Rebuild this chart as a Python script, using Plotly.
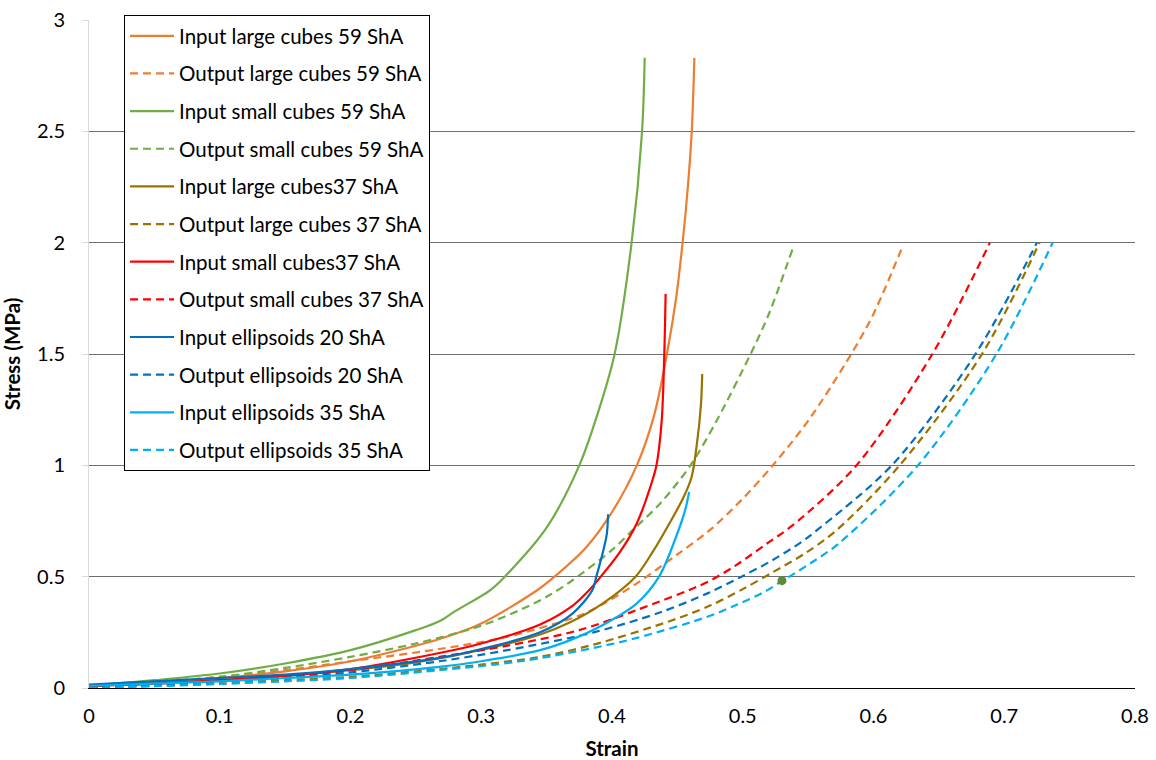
import plotly.graph_objects as go

# Stress-strain curves (strain in mm/mm, stress in MPa)
names = [
    "Input large cubes 59 ShA", "Output large cubes 59 ShA",
    "Input small cubes 59 ShA", "Output small cubes 59 ShA",
    "Input large cubes37 ShA", "Output large cubes 37 ShA",
    "Input small cubes37 ShA", "Output small cubes 37 ShA",
    "Input ellipsoids 20 ShA", "Output ellipsoids 20 ShA",
    "Input ellipsoids 35 ShA", "Output ellipsoids 35 ShA",
]
colors = ["#ED7D31", "#ED7D31", "#70AD47", "#70AD47", "#997300", "#997300",
          "#FF0000", "#FF0000", "#0070C0", "#0070C0", "#00B0F0", "#00B0F0"]

in_large_59_x = [0, 0.05, 0.1, 0.15, 0.2, 0.25, 0.268, 0.3, 0.343, 0.356, 0.38, 0.4, 0.419,
                 0.432, 0.442, 0.449, 0.454, 0.458, 0.461, 0.463]
in_large_59_y = [0.01, 0.025, 0.045, 0.075, 0.12, 0.19, 0.22, 0.29, 0.44, 0.5, 0.63, 0.79, 1.0,
                 1.22, 1.5, 1.75, 2.0, 2.25, 2.5, 2.83]

out_large_59_x = [0, 0.05, 0.1, 0.15, 0.2, 0.268, 0.32, 0.375, 0.391, 0.419, 0.45, 0.475,
                  0.5, 0.523, 0.55, 0.583, 0.6, 0.622]
out_large_59_y = [0, 0.025, 0.05, 0.08, 0.12, 0.175, 0.23, 0.325, 0.37, 0.47, 0.6, 0.71,
                  0.85, 1.0, 1.2, 1.5, 1.68, 1.98]

in_small_59_x = [0, 0.05, 0.1, 0.15, 0.2, 0.25, 0.268, 0.28, 0.307, 0.318, 0.35, 0.375,
                 0.39, 0.402, 0.415, 0.423, 0.425]
in_small_59_y = [0.01, 0.035, 0.065, 0.11, 0.17, 0.26, 0.3, 0.345, 0.44, 0.5, 0.72, 1.0,
                 1.25, 1.5, 2.0, 2.5, 2.83]

out_small_59_x = [0, 0.05, 0.1, 0.15, 0.2, 0.25, 0.3, 0.337, 0.353, 0.37, 0.4, 0.416,
                  0.437, 0.46, 0.48, 0.506, 0.52, 0.538]
out_small_59_y = [0, 0.025, 0.05, 0.09, 0.14, 0.2, 0.28, 0.37, 0.42, 0.485, 0.62, 0.71,
                  0.83, 1.0, 1.2, 1.5, 1.68, 1.97]

in_large_37_x = [0, 0.05, 0.1, 0.15, 0.2, 0.25, 0.307, 0.345, 0.368, 0.393, 0.418, 0.431,
                 0.444, 0.455, 0.461, 0.465, 0.468, 0.469]
in_large_37_y = [0.01, 0.02, 0.035, 0.055, 0.08, 0.115, 0.18, 0.24, 0.295, 0.38, 0.5, 0.61,
                 0.74, 0.86, 0.95, 1.1, 1.27, 1.41]

out_large_37_x = [0, 0.05, 0.1, 0.15, 0.2, 0.268, 0.3, 0.345, 0.386, 0.444, 0.475, 0.5,
                  0.523, 0.548, 0.572, 0.62, 0.683, 0.727]
out_large_37_y = [0, 0.01, 0.02, 0.035, 0.05, 0.085, 0.105, 0.14, 0.195, 0.3, 0.37, 0.444,
                  0.52, 0.606, 0.71, 1.0, 1.5, 2.0]

in_small_37_x = [0, 0.05, 0.1, 0.15, 0.2, 0.268, 0.3, 0.345, 0.37, 0.381, 0.39, 0.406,
                 0.419, 0.431, 0.434, 0.438, 0.44, 0.441]
in_small_37_y = [0.01, 0.02, 0.035, 0.055, 0.085, 0.157, 0.2, 0.285, 0.37, 0.43, 0.49, 0.61,
                 0.74, 0.934, 1.0, 1.2, 1.5, 1.77]

out_small_37_x = [0, 0.05, 0.1, 0.15, 0.2, 0.268, 0.32, 0.375, 0.419, 0.473, 0.495, 0.518,
                  0.538, 0.587, 0.645, 0.689]
out_small_37_y = [0, 0.015, 0.03, 0.05, 0.08, 0.14, 0.19, 0.26, 0.35, 0.476, 0.552, 0.647,
                  0.73, 1.0, 1.5, 2.0]

in_ell_20_x = [0, 0.05, 0.1, 0.15, 0.2, 0.268, 0.3, 0.345, 0.37, 0.385, 0.388, 0.393,
               0.396, 0.397]
in_ell_20_y = [0.015, 0.03, 0.045, 0.06, 0.085, 0.135, 0.175, 0.25, 0.335, 0.44, 0.5, 0.61,
               0.69, 0.78]

out_ell_20_x = [0, 0.05, 0.1, 0.15, 0.2, 0.268, 0.32, 0.386, 0.437, 0.473, 0.499, 0.523,
                0.545, 0.557, 0.614, 0.678, 0.725]
out_ell_20_y = [0, 0.015, 0.03, 0.045, 0.07, 0.12, 0.17, 0.25, 0.34, 0.425, 0.5, 0.575,
                0.656, 0.71, 1.0, 1.5, 2.0]

in_ell_35_x = [0, 0.05, 0.1, 0.15, 0.2, 0.268, 0.3, 0.345, 0.368, 0.393, 0.419, 0.436,
               0.45, 0.456, 0.459]
in_ell_35_y = [0.01, 0.02, 0.03, 0.045, 0.06, 0.095, 0.12, 0.17, 0.215, 0.283, 0.38, 0.5,
               0.695, 0.8, 0.88]

out_ell_35_x = [0, 0.05, 0.1, 0.15, 0.2, 0.268, 0.33, 0.386, 0.419, 0.473, 0.495, 0.516,
                0.53, 0.551, 0.573, 0.634, 0.694, 0.737]
out_ell_35_y = [0, 0.008, 0.018, 0.03, 0.045, 0.08, 0.12, 0.18, 0.225, 0.32, 0.373, 0.43,
                0.48, 0.557, 0.647, 1.0, 1.5, 2.0]

# single highlighted data point
marker_x = [0.530]
marker_y = [0.482]

# axis ticks
strain_ticks = [0, 0.1, 0.2, 0.3, 0.4, 0.5, 0.6, 0.7, 0.8]
strain_labels = ["0", "0.1", "0.2", "0.3", "0.4", "0.5", "0.6", "0.7", "0.8"]
stress_ticks = [0, 0.5, 1, 1.5, 2, 2.5, 3]
stress_labels = ["0", "0.5", "1", "1.5", "2", "2.5", "3"]

series_x = [in_large_59_x, out_large_59_x, in_small_59_x, out_small_59_x,
            in_large_37_x, out_large_37_x, in_small_37_x, out_small_37_x,
            in_ell_20_x, out_ell_20_x, in_ell_35_x, out_ell_35_x]
series_y = [in_large_59_y, out_large_59_y, in_small_59_y, out_small_59_y,
            in_large_37_y, out_large_37_y, in_small_37_y, out_small_37_y,
            in_ell_20_y, out_ell_20_y, in_ell_35_y, out_ell_35_y]

FONT = "Lato, 'Open Sans', sans-serif"

fig = go.Figure()
for i, (nm, col, xs, ys) in enumerate(zip(names, colors, series_x, series_y)):
    fig.add_trace(go.Scatter(
        x=xs, y=ys, name=nm, mode="lines", legendgroup=f"g{i}",
        line=dict(color=col, width=2.2, shape="spline", smoothing=0.9,
                  dash="solid" if i % 2 == 0 else "8px,5px"),
    ))

fig.add_trace(go.Scatter(
    x=marker_x, y=marker_y, mode="markers", showlegend=False,
    marker=dict(color="#5B8A3A", size=9),
))

fig.update_layout(
    width=1156, height=760,
    margin=dict(l=89, r=21, t=20, b=72),
    paper_bgcolor="white", plot_bgcolor="white",
    font=dict(family=FONT, color="black", size=20),
    showlegend=True,
    legend=dict(
        x=0.0335, y=1.0075, xanchor="left", yanchor="top",
        bgcolor="white", bordercolor="black", borderwidth=1,
        font=dict(family=FONT, size=20.5, color="black"),
        traceorder="grouped", tracegroupgap=8, itemwidth=44,
        maxheight=700,
    ),
    xaxis=dict(
        range=[0, 0.8], tickvals=strain_ticks, ticktext=strain_labels,
        showgrid=False, zeroline=False, automargin=False,
        showline=True, linecolor="black", linewidth=1,
        ticks="", ticklabelstandoff=10,
        tickfont=dict(size=20),
        title=dict(text="<b>Strain</b>", font=dict(size=20.5), standoff=17),
    ),
    yaxis=dict(
        range=[0, 3], tickvals=stress_ticks, ticktext=stress_labels,
        showgrid=True, gridcolor="#6e6e6e", gridwidth=1,
        zeroline=False, automargin=False,
        showline=True, linecolor="#d9d9d9", linewidth=1,
        ticks="outside", ticklen=6, tickcolor="#d9d9d9",
        ticklabelstandoff=13,
        tickfont=dict(size=20),
        title=dict(text="<b>Stress (MPa)</b>", font=dict(size=20.5), standoff=16),
    ),
)

fig.write_html("out.html")
